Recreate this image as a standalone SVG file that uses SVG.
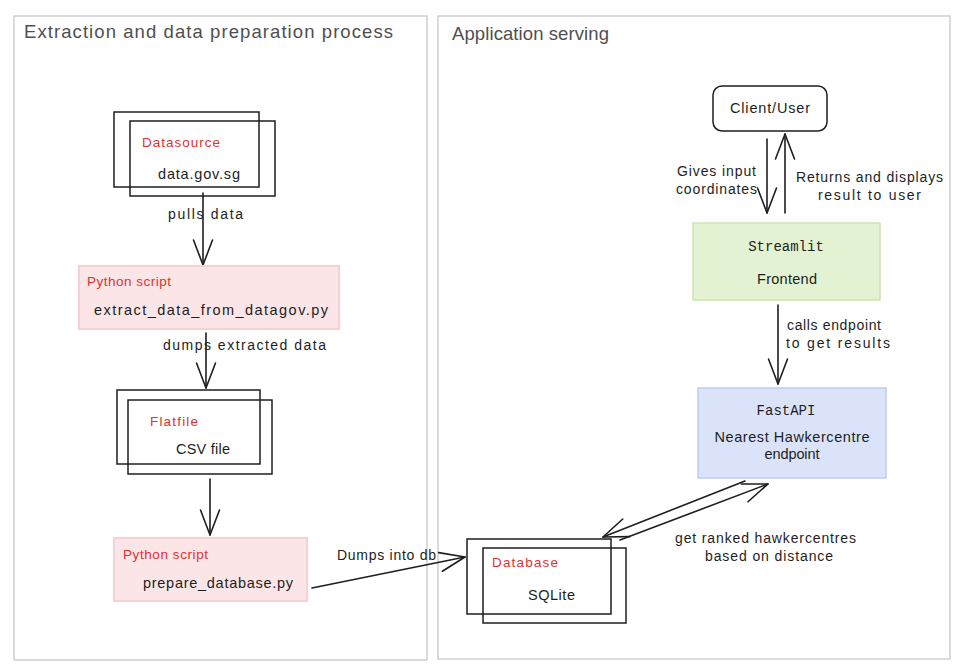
<svg xmlns="http://www.w3.org/2000/svg" width="955" height="670" viewBox="0 0 955 670">
<style>
.panel{fill:#fff;stroke:#cfcfcf;stroke-width:1.5}
.ptitle{font-family:"Liberation Sans",Arial,sans-serif;font-size:18.5px;fill:#4f4f4f}
.box{fill:none;stroke:#1e1e1e;stroke-width:1.5}
.red{font-family:"Liberation Sans",Arial,sans-serif;font-size:13.5px;fill:#e03131}
.txt{font-family:"Liberation Sans",Arial,sans-serif;font-size:14.5px;fill:#1e1e1e}
.lbl{font-family:"Liberation Sans",Arial,sans-serif;font-size:14px;fill:#1e1e1e}
.mono{font-family:"Liberation Mono","DejaVu Sans Mono",monospace;font-size:14px;fill:#1e1e1e}
.conn{fill:none;stroke:#1e1e1e;stroke-width:1.6;stroke-linecap:round}
.pink{fill:#fbe5e7;stroke:#f7d0d4;stroke-width:2}
.green{fill:#e2f2d2;stroke:#c9e6b0;stroke-width:1.5}
.blue{fill:#dbe3fb;stroke:#bccbf4;stroke-width:1.5}
</style>
<defs>
<marker id="ah" markerUnits="userSpaceOnUse" markerWidth="32" markerHeight="26" viewBox="-29 -13 32 26" refX="0" refY="0" orient="auto">
<path d="M-25,-9.5 L0,0 L-25,9.5" fill="none" stroke="#1e1e1e" stroke-width="1.6" stroke-linecap="round" stroke-linejoin="round"/>
</marker>
</defs>
<rect width="955" height="670" fill="#fff"/>
<g id="panel-left">
<rect class="panel" x="14" y="16" width="413" height="644"/>
<text class="ptitle" x="24" y="38" textLength="369">Extraction and data preparation process</text>
</g>
<g id="panel-right">
<rect class="panel" x="438" y="16" width="512" height="643"/>
<text class="ptitle" x="452" y="40" textLength="157">Application serving</text>
</g>
<g id="connectors">
<path class="conn" d="M203,193 L203,265" marker-end="url(#ah)"/>
<path class="conn" d="M206,333 L206,388" marker-end="url(#ah)"/>
<path class="conn" d="M210,479 L210,535" marker-end="url(#ah)"/>
<path class="conn" d="M312,588 L465,557" marker-end="url(#ah)"/>
<path class="conn" d="M767,139 L767,213" marker-end="url(#ah)"/>
<path class="conn" d="M785,213 L785,134" marker-end="url(#ah)"/>
<path class="conn" d="M778,305 L778,384" marker-end="url(#ah)"/>
<path class="conn" d="M620,540 L768,484" marker-end="url(#ah)"/>
<path class="conn" d="M745,481 L603,537" marker-end="url(#ah)"/>
<text class="lbl" x="168" y="219" textLength="75">pulls data</text>
<text class="lbl" x="163" y="350" textLength="163">dumps extracted data</text>
<text class="lbl" x="337" y="560" textLength="99">Dumps into db</text>
<text class="lbl" x="677" y="176" textLength="79">Gives input</text>
<text class="lbl" x="676" y="194" textLength="81">coordinates</text>
<text class="lbl" x="796" y="182" textLength="147">Returns and displays</text>
<text class="lbl" x="818" y="200" textLength="103">result to user</text>
<text class="lbl" x="787" y="330" textLength="94">calls endpoint</text>
<text class="lbl" x="786" y="348" textLength="104">to get results</text>
<text class="lbl" x="675" y="543" textLength="181">get ranked hawkercentres</text>
<text class="lbl" x="705" y="561" textLength="128">based on distance</text>
</g>
<g id="datasource">
<rect class="box" x="114" y="112" width="145" height="75"/>
<rect class="box" x="130" y="121" width="145" height="75"/>
<text class="red" x="142" y="147" textLength="78">Datasource</text>
<text class="txt" x="158" y="179" textLength="82">data.gov.sg</text>
</g>
<g id="python-extract">
<rect class="pink" x="79" y="266" width="260" height="63"/>
<text class="red" x="87" y="286" textLength="84">Python script</text>
<text class="txt" x="94" y="315" textLength="234">extract_data_from_datagov.py</text>
</g>
<g id="flatfile">
<rect class="box" x="117" y="390" width="143" height="74"/>
<rect class="box" x="128" y="400" width="144" height="74"/>
<text class="red" x="150" y="426" textLength="48">Flatfile</text>
<text class="txt" x="176" y="454" textLength="54">CSV file</text>
</g>
<g id="python-prepare">
<rect class="pink" x="114" y="538" width="193" height="63"/>
<text class="red" x="123" y="559" textLength="85">Python script</text>
<text class="txt" x="143" y="588" textLength="150">prepare_database.py</text>
</g>
<g id="database">
<rect class="box" x="467" y="539" width="144" height="75"/>
<rect class="box" x="483" y="548" width="143" height="75"/>
<text class="red" x="492" y="567" textLength="66">Database</text>
<text class="txt" x="528" y="600" textLength="47">SQLite</text>
</g>
<g id="client-user">
<rect class="box" x="713" y="86" width="114" height="45" rx="9" stroke-width="2"/>
<text class="txt" x="770" y="113" text-anchor="middle" textLength="80">Client/User</text>
</g>
<g id="streamlit">
<rect class="green" x="693" y="223" width="187" height="77"/>
<text class="mono" x="786" y="251" text-anchor="middle">Streamlit</text>
<text class="txt" x="787" y="284" text-anchor="middle" textLength="60">Frontend</text>
</g>
<g id="fastapi">
<rect class="blue" x="698" y="388" width="188" height="90"/>
<text class="mono" x="786" y="415" text-anchor="middle">FastAPI</text>
<text class="txt" x="792" y="442" text-anchor="middle" textLength="155">Nearest Hawkercentre</text>
<text class="txt" x="792" y="459" text-anchor="middle" textLength="55">endpoint</text>
</g>
</svg>
